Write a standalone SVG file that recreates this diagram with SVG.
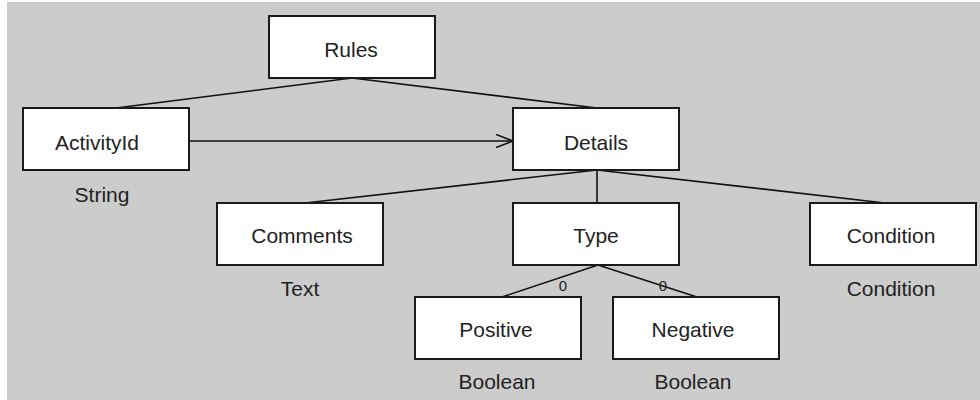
<svg xmlns="http://www.w3.org/2000/svg" width="980" height="400" viewBox="0 0 980 400">
<style>
.box{fill:#ffffff;stroke:#1a1a1a;stroke-width:2}
.t{font-family:"Liberation Sans",Arial,sans-serif;font-size:21px;fill:#222;text-anchor:middle}
.s{font-family:"Liberation Sans",Arial,sans-serif;font-size:15px;fill:#222;text-anchor:middle}
.c{stroke:#111;stroke-width:1.6;fill:none}
</style>
<defs>
<marker id="open" markerWidth="20" markerHeight="14" refX="17" refY="7" orient="auto" markerUnits="userSpaceOnUse">
<path d="M0,0.5 L17,7 L0,13.5" fill="none" stroke="#111" stroke-width="1.6"/>
</marker>
</defs>
<rect x="0" y="0" width="980" height="400" fill="#ffffff"/>
<rect x="7" y="2" width="973" height="398" fill="#cccccc"/>
<g id="connectors">
<line class="c" x1="352" y1="78" x2="116" y2="108"/>
<line class="c" x1="352" y1="78" x2="597" y2="108"/>
<line class="c" x1="189" y1="141" x2="513" y2="141" marker-end="url(#open)"/>
<line class="c" x1="597" y1="170" x2="305" y2="203"/>
<line class="c" x1="597" y1="170" x2="597" y2="203"/>
<line class="c" x1="597" y1="170" x2="885" y2="203"/>
<line class="c" x1="598" y1="265" x2="502" y2="297"/>
<line class="c" x1="598" y1="265" x2="697" y2="297"/>
<text class="s" x="563" y="291">0</text>
<text class="s" x="663" y="291">0</text>
</g>
<g id="rules"><rect class="box" x="269" y="16" width="166" height="62"/><text class="t" x="351" y="57">Rules</text></g>
<g id="activityid"><rect class="box" x="23" y="108" width="166" height="62"/><text class="t" x="97" y="150">ActivityId</text><text class="t" x="102" y="202">String</text></g>
<g id="details"><rect class="box" x="513" y="108" width="166" height="62"/><text class="t" x="596" y="150">Details</text></g>
<g id="comments"><rect class="box" x="217" y="203" width="166" height="62"/><text class="t" x="302" y="243">Comments</text><text class="t" x="300" y="296">Text</text></g>
<g id="type"><rect class="box" x="513" y="203" width="166" height="62"/><text class="t" x="596" y="243">Type</text></g>
<g id="condition"><rect class="box" x="810" y="203" width="166" height="62"/><text class="t" x="891" y="243">Condition</text><text class="t" x="891" y="296">Condition</text></g>
<g id="positive"><rect class="box" x="415" y="297" width="166" height="62"/><text class="t" x="496" y="337">Positive</text><text class="t" x="497" y="389">Boolean</text></g>
<g id="negative"><rect class="box" x="613" y="297" width="166" height="62"/><text class="t" x="693" y="337">Negative</text><text class="t" x="693" y="389">Boolean</text></g>
</svg>
